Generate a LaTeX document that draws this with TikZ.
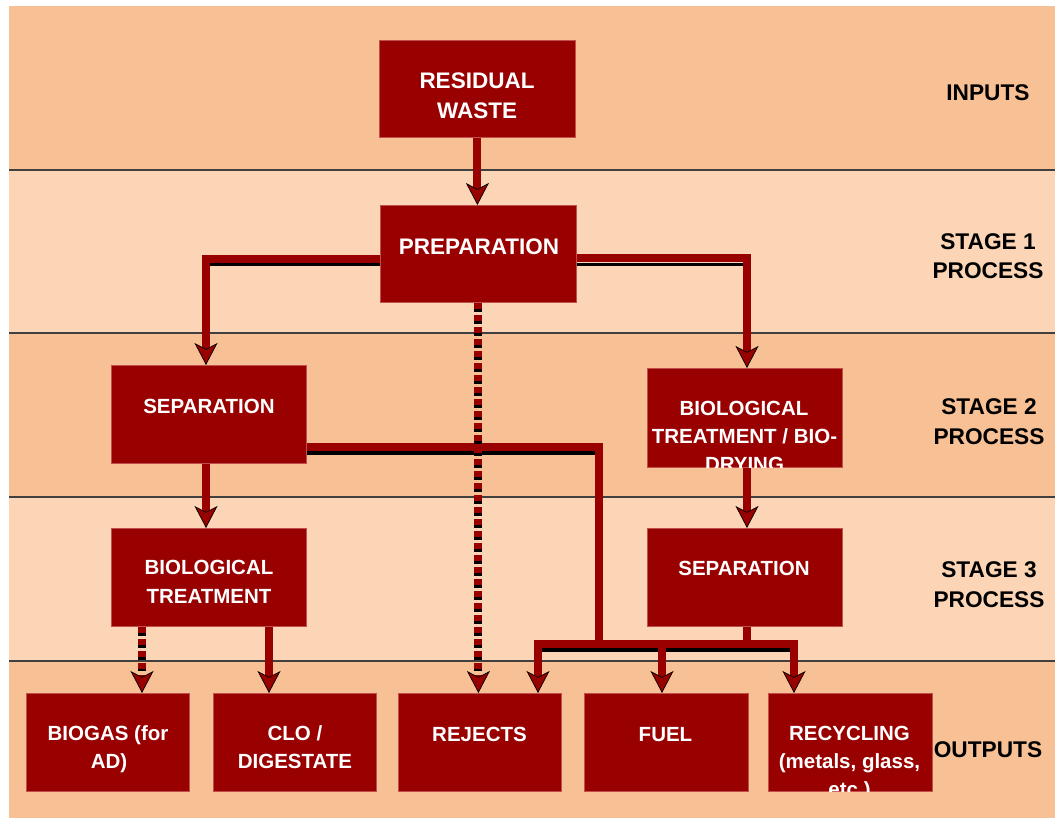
\documentclass[tikz,border=0pt]{standalone}
\usepackage{fontspec}
\setmainfont{Liberation Sans}
\usetikzlibrary{arrows.meta,calc}
\definecolor{bandA}{HTML}{F8C095}
\definecolor{bandB}{HTML}{FBD5B5}
\definecolor{boxred}{HTML}{990000}
\definecolor{boxedge}{HTML}{C0504D}
\definecolor{rulegray}{HTML}{404040}
\newcommand\bx[5]{\node[stagebox,minimum width=#4pt,minimum height=#5pt] (#1) at (#2,#3) {};}
\newcommand\tl[4]{\node[btext] (#1) at (#2,#3) {#4};}
\begin{document}
\begin{tikzpicture}[x=1pt,y=-1pt,
 >={Stealth[length=22pt,width=23pt,inset=6pt,fill=boxred,color=black,line width=0.7pt]},
 stagebox/.style={rectangle,draw=boxedge,line width=0.8pt,fill=boxred,inner sep=0pt,anchor=north west},
 btext/.style={anchor=base,text=white,inner sep=0pt,font=\fontsize{20.5}{24}\selectfont\bfseries},
 bigtext/.style={btext,font=\fontsize{22.5}{27}\selectfont\bfseries},
 lbl/.style={anchor=base,text=black,inner sep=0pt,font=\fontsize{22.7}{26}\selectfont\bfseries},
 conn/.style={draw=boxred,line width=8pt,line join=miter},
 shade/.style={draw=black,line width=3.5pt},
 dashred/.style={draw=boxred,line width=8pt,dash pattern=on 6pt off 6pt},
 dashblack/.style={draw=black,line width=8pt,dash pattern=on 3pt off 9pt,dash phase=6pt},
 rule/.style={draw=rulegray,line width=1.3pt}]
\useasboundingbox (0,0) rectangle (1055,818);
\fill[white] (0,0) rectangle (1055,818);
% bands
\fill[bandA] (9,6) rectangle (1055,170);
\fill[bandB] (9,170) rectangle (1055,333);
\fill[bandA] (9,333) rectangle (1055,497);
\fill[bandB] (9,497) rectangle (1055,661);
\fill[bandA] (9,661) rectangle (1055,818);
\draw[rule] (9,170) -- (1055,170);
\draw[rule] (9,333) -- (1055,333);
\draw[rule] (9,497) -- (1055,497);
\draw[rule] (9,661) -- (1055,661);
% boxes
\bx{rw}{379}{40}{196}{97}
\bx{prep}{380}{205}{196}{97}
\bx{sepL}{111}{365}{195}{98}
\bx{biod}{647}{368}{195}{99}
\bx{bioT}{111}{528}{195}{98}
\bx{sepR}{647}{528}{195}{98}
\bx{biogas}{26}{693}{163}{98}
\bx{clo}{213}{693}{163}{98}
\bx{rej}{398}{693}{163}{98}
\bx{fuel}{584}{693}{164}{98}
\bx{rec}{768}{693}{164}{98}
% coordinates
\coordinate (cL) at (206,259);
\coordinate (sL) at (210,264.75);
\coordinate (cR) at (747,258.5);
\coordinate (sR) at (743,264.5);
\coordinate (cS) at (599,447);
\coordinate (sS) at (595,452.75);
\coordinate (jS) at (599,643.5);
\coordinate (bL) at (538,643.5);
\coordinate (bR) at (794,643.5);
\coordinate (bF) at (662,643.5);
\coordinate (bS) at (747,643.5);
\coordinate (sb1) at (538,650);
\coordinate (sb2) at (794,650);
\coordinate (xa) at (206,0);
\coordinate (xg) at (142,0);
\coordinate (xc) at (269,0);
% shadows
\draw[shade] (sL) -- (prep.west |- sL);
\draw[shade] (prep.east |- sR) -- (sR);
\draw[shade] (sepL.east |- sS) -- (sS);
\draw[shade] (sb1) -- (sb2);
% connectors
\draw[conn,->] (rw.south) -- (rw.south |- prep.north);
\draw[conn,->] (prep.west |- cL) -- (cL) -- (cL |- sepL.north);
\draw[conn,->] (prep.east |- cR) -- (cR) -- (cR |- biod.north);
\draw[conn] (sepL.east |- cS) -- (cS) -- (jS);
\draw[conn,<->] (bL |- rej.north) -- (bL) -- (bR) -- (bR |- rec.north);
\draw[conn,->] (bF) -- (bF |- fuel.north);
\draw[conn] (sepR.south -| bS) -- (bS);
\draw[conn,->] (sepL.south -| xa) -- (bioT.north -| xa);
\draw[conn,->] (biod.south -| cR) -- (sepR.north -| cR);
\draw[conn,->] (bioT.south -| xc) -- (clo.north -| xc);
\draw[dashred,->] (prep.south) -- (prep.south |- rej.north);
\draw[dashblack,shorten >=22pt] (prep.south) -- (prep.south |- rej.north);
\draw[dashred,->] (bioT.south -| xg) -- (biogas.north -| xg);
\draw[dashblack,shorten >=22pt] (bioT.south -| xg) -- (biogas.north -| xg);
% box texts
\node[bigtext] (rw1) at (477,89) {RESIDUAL};
\node[bigtext] (rw2) at (477,118.5) {WASTE};
\node[bigtext] (pr1) at (479,255) {PREPARATION};
\tl{sl1}{209}{413}{SEPARATION}
\begin{scope}
\clip (biod.south west) rectangle (biod.north east);
\tl{bd1}{744}{415}{BIOLOGICAL}
\tl{bd2}{744.5}{443}{TREATMENT / BIO-}
\tl{bd3}{744.5}{471}{DRYING}
\end{scope}
\tl{bt1}{209}{574}{BIOLOGICAL}
\tl{bt2}{209}{603}{TREATMENT}
\tl{sr1}{744}{575}{SEPARATION}
\tl{bg1}{108}{740}{BIOGAS (for}
\tl{bg2}{109}{768}{AD)}
\tl{cl1}{295}{740}{CLO /}
\tl{cl2}{295}{768}{DIGESTATE}
\tl{rj1}{479.5}{741}{REJECTS}
\tl{fu1}{665.5}{741}{FUEL}
\begin{scope}
\clip (rec.south west) rectangle (rec.north east);
\tl{rc1}{849.5}{740}{RECYCLING}
\tl{rc2}{849.5}{768}{(metals, glass,}
\tl{rc3}{849.5}{796}{etc.)}
\end{scope}
% stage labels
\node[lbl] (l1) at (988,100.5) {INPUTS};
\node[lbl] (l2a) at (988,250) {STAGE 1};
\node[lbl] (l2b) at (988,279) {PROCESS};
\node[lbl] (l3a) at (989,414) {STAGE 2};
\node[lbl] (l3b) at (989,444) {PROCESS};
\node[lbl] (l4a) at (989,577) {STAGE 3};
\node[lbl] (l4b) at (989,607) {PROCESS};
\node[lbl] (l5) at (988,757) {OUTPUTS};
\end{tikzpicture}
\end{document}
